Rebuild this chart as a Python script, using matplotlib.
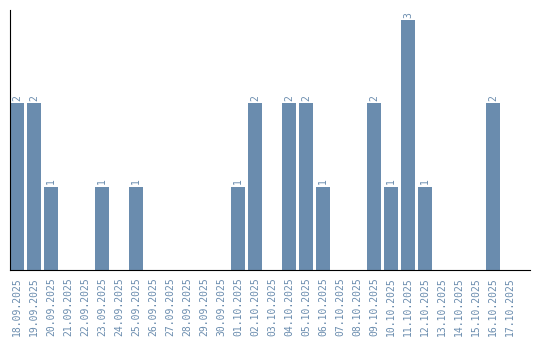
import matplotlib
matplotlib.use("Agg")
import matplotlib.pyplot as plt

dates = ["18.09.2025", "19.09.2025", "20.09.2025", "21.09.2025", "22.09.2025",
         "23.09.2025", "24.09.2025", "25.09.2025", "26.09.2025", "27.09.2025",
         "28.09.2025", "29.09.2025", "30.09.2025", "01.10.2025", "02.10.2025",
         "03.10.2025", "04.10.2025", "05.10.2025", "06.10.2025", "07.10.2025",
         "08.10.2025", "09.10.2025", "10.10.2025", "11.10.2025", "12.10.2025",
         "13.10.2025", "14.10.2025", "15.10.2025", "16.10.2025", "17.10.2025"]
values = [2, 2, 1, 0, 0, 1, 0, 1, 0, 0, 0, 0, 0, 1, 2,
          0, 2, 2, 1, 0, 0, 2, 1, 3, 1, 0, 0, 0, 2, 0]

color = "#6a8cae"
plt.rcParams["font.family"] = "DejaVu Sans Mono"
fig = plt.figure(figsize=(5.4, 3.4), dpi=100)
ax = fig.add_axes([10/540, 70/340, 520/540, 260/340])
x = list(range(len(dates)))
ax.bar(x, values, width=0.82, color=color)
for xi, v in zip(x, values):
    if v > 0:
        ax.text(xi, v + 0.03, str(v), rotation=90, ha="center", va="bottom",
                fontsize=7, color=color)
ax.set_xlim(-0.41, 30.18)
ax.set_ylim(0, 3.12)
ax.set_xticks(x)
ax.set_xticklabels(dates, rotation=90, fontsize=7, color=color)
ax.tick_params(axis="x", length=0, pad=5)
ax.set_yticks([])
ax.spines["top"].set_visible(False)
ax.spines["right"].set_visible(False)
ax.spines["left"].set_color("black")
ax.spines["bottom"].set_color("black")
fig.savefig("out.png", dpi=100)
